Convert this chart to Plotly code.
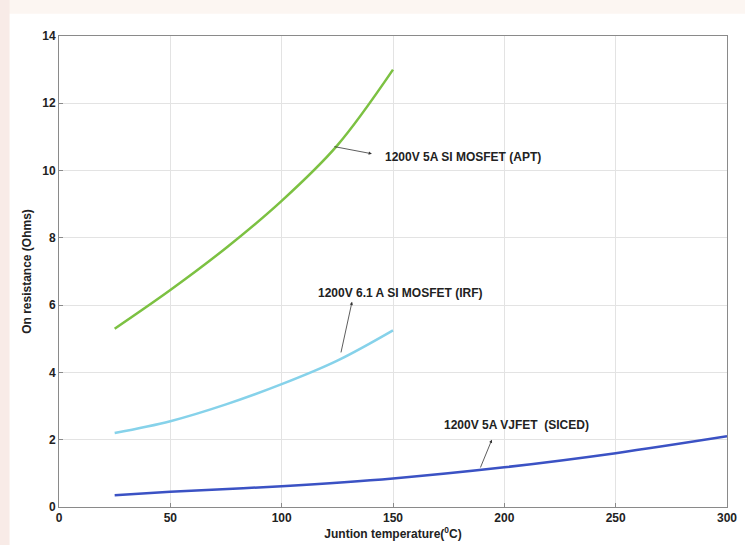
import plotly.graph_objects as go

temp_apt = [25, 50, 75, 100, 125, 150]
ron_apt = [5.3, 6.45, 7.7, 9.1, 10.75, 13.0]

temp_irf = [25, 50, 75, 100, 125, 150]
ron_irf = [2.2, 2.55, 3.05, 3.65, 4.35, 5.25]

temp_jfet = [25, 50, 100, 150, 200, 250, 300]
ron_jfet = [0.35, 0.45, 0.62, 0.85, 1.18, 1.6, 2.1]

x_ticks = [0, 50, 100, 150, 200, 250, 300]
y_ticks = [0, 2, 4, 6, 8, 10, 12, 14]

fig = go.Figure()
fig.add_trace(go.Scatter(x=temp_apt, y=ron_apt, mode="lines", line=dict(color="#7cc142", width=2.5, shape="spline")))
fig.add_trace(go.Scatter(x=temp_irf, y=ron_irf, mode="lines", line=dict(color="#86d2ea", width=2.5, shape="spline")))
fig.add_trace(go.Scatter(x=temp_jfet, y=ron_jfet, mode="lines", line=dict(color="#3b52c4", width=2.5, shape="spline")))

font_b = dict(family="Liberation Sans, Arial", size=12, color="#222")

labels = [
    ("<b>1200V 5A SI MOSFET (APT)</b>", 145.5, 10.4, 123, 10.72, 140.5, 10.5),
    ("<b>1200V 6.1 A SI MOSFET (IRF)</b>", 115.5, 6.36, 126.5, 4.55, 131.6, 6.1),
    ("<b>1200V 5A VJFET  (SICED)</b>", 172.0, 2.44, 189, 1.13, 194.4, 2.0),
]
for text, tx, ty, x0, y0, x1, y1 in labels:
    fig.add_annotation(x=tx, y=ty, text=text, showarrow=False, xanchor="left", yanchor="middle", font=font_b)
    fig.add_annotation(x=x1, y=y1, ax=x0, ay=y0, axref="x", ayref="y", xref="x", yref="y",
                       text="", showarrow=True, arrowhead=2, arrowsize=0.8, arrowwidth=0.8,
                       arrowcolor="#333", standoff=0)

fig.update_layout(
    width=745, height=545,
    margin=dict(l=59, r=18, t=36, b=38),
    paper_bgcolor="#ffffff",
    plot_bgcolor="#ffffff",
    showlegend=False,
    font=dict(family="Liberation Sans, Arial", size=12, color="#222"),
)
fig.add_shape(type="rect", xref="paper", yref="paper", x0=-0.2, x1=1.1, y0=1.047, y1=1.2,
              fillcolor="#fcf6f2", line_width=0, layer="below")
fig.add_shape(type="rect", xref="paper", yref="paper", x0=-0.2, x1=-0.074, y0=-0.2, y1=1.2,
              fillcolor="#f8ebe7", line_width=0, layer="below")
fig.update_xaxes(range=[0, 300], tickvals=x_ticks, ticktext=[f"<b>{v}</b>" for v in x_ticks],
                 showgrid=True, gridcolor="#e3e3e3", gridwidth=1, automargin=False,
                 showline=True, linecolor="#8a8a8a", linewidth=1, mirror=True,
                 ticks="inside", ticklen=4, tickcolor="#8a8a8a", zeroline=False,
                 title=dict(text="<b>Juntion temperature(<sup>0</sup>C)</b>", standoff=4, font=dict(size=12)))
fig.update_yaxes(range=[0, 14], tickvals=y_ticks, ticktext=[f"<b>{v}</b>" for v in y_ticks],
                 showgrid=True, gridcolor="#e3e3e3", gridwidth=1, automargin=False,
                 showline=True, linecolor="#8a8a8a", linewidth=1, mirror=True,
                 ticks="inside", ticklen=4, tickcolor="#8a8a8a", zeroline=False,
                 title=dict(text="<b>On resistance (Ohms)</b>", standoff=8, font=dict(size=12)))

fig.write_html("out.html")
